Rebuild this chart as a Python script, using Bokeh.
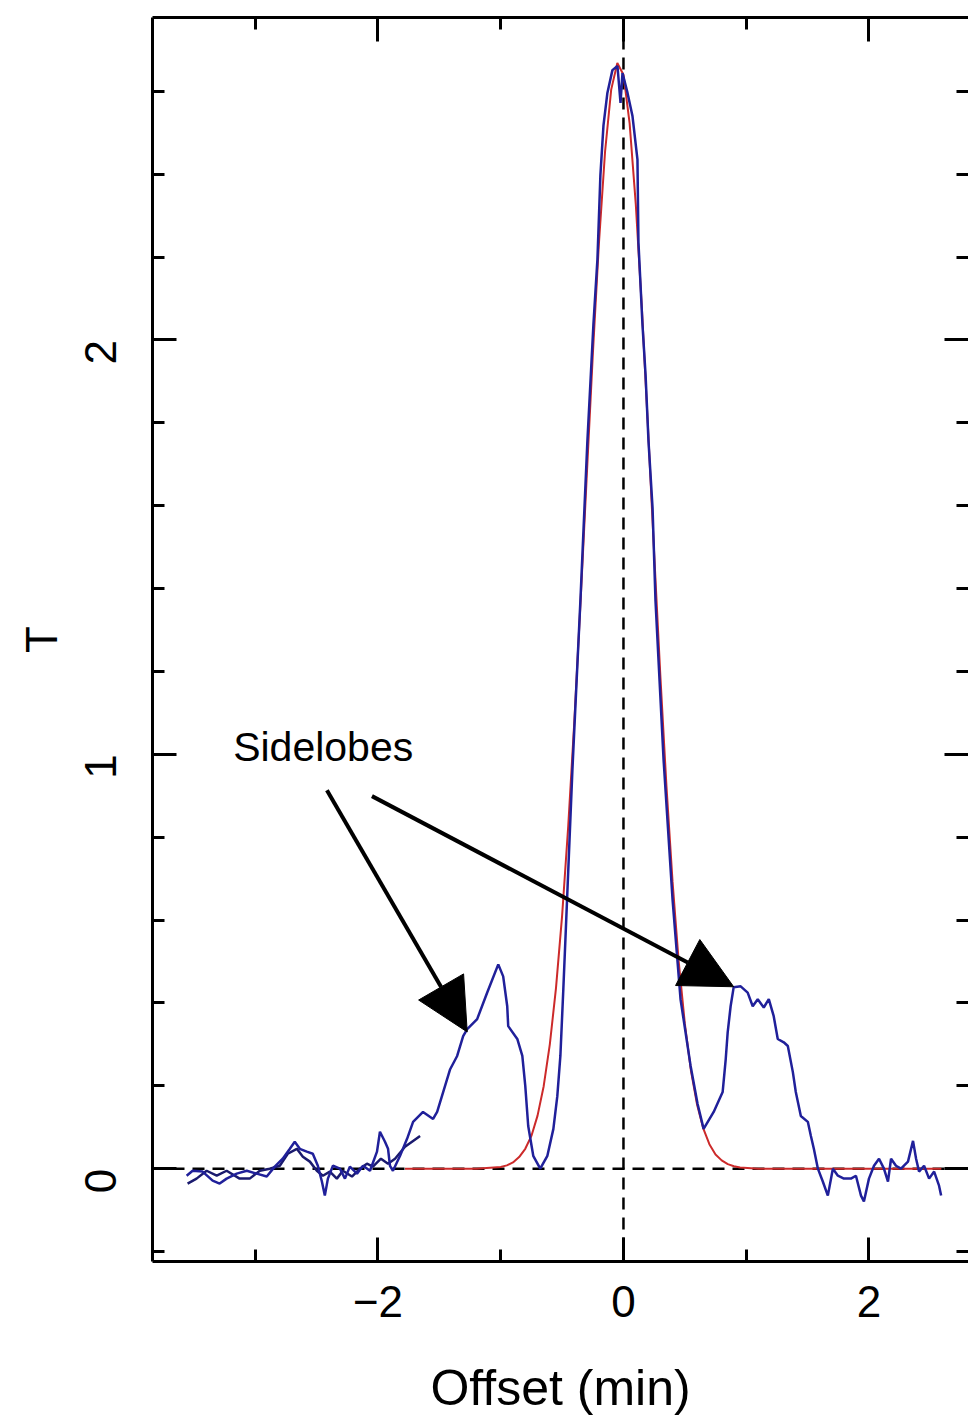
import math
from bokeh.plotting import figure
from bokeh.models import (Range1d, LinearAxis, SingleIntervalTicker, Span, Label,
                          Arrow, NormalHead, CustomJSTickFormatter)
from bokeh.embed import file_html
from bokeh.resources import INLINE

FONT = "Liberation Sans"

# ---------------- data ----------------
# observed scan (blue), full range
scan_x = [-3.559, -3.510, -3.429, -3.347, -3.290, -3.233, -3.151, -3.069, -2.988, -2.906,
          -2.841, -2.776, -2.718, -2.678, -2.637, -2.580, -2.531, -2.490, -2.457, -2.433,
          -2.408, -2.367, -2.310, -2.269, -2.229, -2.171, -2.122, -2.065, -2.008, -1.984,
          -1.943, -1.918, -1.902, -1.878, -1.820, -1.763, -1.714, -1.633, -1.551, -1.518,
          -1.469, -1.412, -1.355, -1.306, -1.273, -1.192, -1.110, -1.020, -0.980, -0.947,
          -0.939, -0.865, -0.824, -0.800, -0.776, -0.735, -0.678, -0.620, -0.571, -0.539,
          -0.514, -0.490, -0.473, -0.416, -0.351, -0.294, -0.245, -0.212, -0.188, -0.163,
          -0.131, -0.090, -0.049, -0.024, -0.008, 0.033, 0.073, 0.114, 0.122, 0.155,
          0.180, 0.204, 0.237, 0.261, 0.327, 0.400, 0.465, 0.547, 0.604, 0.653,
          0.735, 0.808, 0.833, 0.849, 0.873, 0.898, 0.955, 1.012, 1.053, 1.094,
          1.143, 1.184, 1.224, 1.257, 1.306, 1.339, 1.380, 1.404, 1.445, 1.502,
          1.527, 1.551, 1.584, 1.624, 1.665, 1.706, 1.747, 1.796, 1.853, 1.894,
          1.935, 1.959, 2.000, 2.041, 2.082, 2.122, 2.155, 2.180, 2.220, 2.261,
          2.318, 2.359, 2.384, 2.408, 2.449, 2.490, 2.531, 2.571, 2.588]
scan_t = [-0.017, -0.005, -0.007, -0.029, -0.036, -0.024, -0.012, -0.005, -0.012, -0.019,
          0.005, 0.024, 0.048, 0.065, 0.048, 0.041, 0.036, 0.007, -0.031, -0.065,
          -0.024, 0.007, 0.000, -0.024, 0.005, -0.012, 0.007, -0.005, 0.041, 0.089,
          0.065, 0.048, 0.007, -0.005, 0.031, 0.072, 0.113, 0.137, 0.120, 0.137,
          0.185, 0.240, 0.272, 0.320, 0.337, 0.361, 0.425, 0.493, 0.464, 0.392,
          0.344, 0.313, 0.272, 0.200, 0.103, 0.031, 0.000, 0.031, 0.096, 0.175,
          0.272, 0.433, 0.553, 0.962, 1.370, 1.755, 2.036, 2.195, 2.397, 2.517,
          2.596, 2.651, 2.661, 2.572, 2.644, 2.596, 2.541, 2.435, 2.236, 2.036,
          1.916, 1.755, 1.594, 1.370, 0.986, 0.649, 0.409, 0.248, 0.156, 0.096,
          0.137, 0.185, 0.264, 0.329, 0.392, 0.438, 0.440, 0.425, 0.392, 0.409,
          0.389, 0.409, 0.368, 0.313, 0.305, 0.296, 0.233, 0.185, 0.127, 0.113,
          0.079, 0.048, 0.000, -0.031, -0.065, 0.000, -0.017, -0.024, -0.024, -0.017,
          -0.065, -0.079, -0.024, 0.007, 0.024, 0.000, -0.031, 0.024, 0.007, 0.000,
          0.017, 0.067, 0.024, -0.007, 0.007, -0.024, -0.007, -0.041, -0.065]

# second (overlapping) scan on the baseline at left
scan2_x = [-3.551, -3.478, -3.396, -3.314, -3.233, -3.127, -3.045, -2.963, -2.882, -2.800,
           -2.735, -2.661, -2.612, -2.555, -2.498, -2.449, -2.392, -2.335, -2.286, -2.212,
           -2.147, -2.090, -2.041, -1.976, -1.918, -1.861, -1.780, -1.714, -1.657]
scan2_t = [-0.036, -0.024, -0.005, -0.017, -0.005, -0.024, -0.024, -0.005, 0.000, 0.007,
           0.036, 0.048, 0.029, 0.017, -0.005, -0.017, -0.007, -0.024, -0.005, -0.019,
           0.000, 0.012, 0.005, 0.024, 0.012, 0.024, 0.053, 0.067, 0.079]

# beam fit (red)
fit_x = [-1.78, -1.20, -1.00, -0.95, -0.90, -0.85, -0.80, -0.75, -0.70, -0.65,
         -0.60, -0.55, -0.50, -0.45, -0.40, -0.35, -0.30, -0.25, -0.20, -0.15,
         -0.10, -0.05, 0.00, 0.05, 0.10, 0.15, 0.20, 0.25, 0.30, 0.35,
         0.40, 0.45, 0.50, 0.55, 0.60, 0.65, 0.70, 0.75, 0.80, 0.85,
         0.90, 0.95, 1.10, 2.59]
fit_t = [0.000, 0.000, 0.004, 0.008, 0.015, 0.028, 0.048, 0.079, 0.128, 0.199,
         0.300, 0.435, 0.610, 0.827, 1.081, 1.366, 1.666, 1.963, 2.233, 2.454,
         2.604, 2.668, 2.640, 2.523, 2.329, 2.076, 1.787, 1.485, 1.192, 0.924,
         0.692, 0.500, 0.350, 0.236, 0.154, 0.097, 0.059, 0.034, 0.020, 0.011,
         0.006, 0.003, 0.000, 0.000]

# annotation: label and arrows (tail -> tip)
label_text = "Sidelobes"
label_pos = (-3.18, 1.017)
arrow_x0 = [-2.416, -2.049]
arrow_y0 = [0.913, 0.899]
arrow_x1 = [-1.273, 0.898]
arrow_y1 = [0.330, 0.439]

x_ticks_major = 2
y_ticks_major = 1

# ---------------- figure ----------------
p = figure(width=968, height=1418, output_backend="svg", toolbar_location=None, tools="",
           x_range=Range1d(-3.837, 2.811), y_range=Range1d(-0.224, 2.778),
           x_axis_location=None, y_axis_location=None,
           min_border_left=152, min_border_top=17, min_border_right=0, min_border_bottom=155)
p.outline_line_color = None
p.xgrid.visible = False
p.ygrid.visible = False
p.background_fill_color = "white"
p.border_fill_color = "white"


def style_axis(ax, show_labels, show_line=True):
    ax.axis_line_color = "black" if show_line else None
    ax.axis_line_width = 3
    ax.major_tick_in = 24
    ax.major_tick_out = 0
    ax.minor_tick_in = 12
    ax.minor_tick_out = 0
    ax.major_tick_line_width = 3
    ax.minor_tick_line_width = 3
    ax.major_tick_line_color = "black"
    ax.minor_tick_line_color = "black"
    if show_labels:
        ax.major_label_text_font = FONT
        ax.major_label_text_font_size = "44px"
        ax.major_label_text_color = "black"
        ax.axis_label_text_font = FONT
        ax.axis_label_text_font_size = "50px"
        ax.axis_label_text_font_style = "normal"
        ax.axis_label_text_color = "black"
    else:
        ax.formatter = CustomJSTickFormatter(code="return ''")
        ax.major_label_text_font_size = "0px"
        ax.major_label_standoff = 0


xb = LinearAxis(ticker=SingleIntervalTicker(interval=x_ticks_major, num_minor_ticks=2),
                axis_label="Offset (min)")
style_axis(xb, True)
xb.major_label_standoff = 24
xb.axis_label_standoff = 40
p.add_layout(xb, "below")

xt = LinearAxis(ticker=SingleIntervalTicker(interval=x_ticks_major, num_minor_ticks=2))
style_axis(xt, False)
p.add_layout(xt, "above")

yl = LinearAxis(ticker=SingleIntervalTicker(interval=y_ticks_major, num_minor_ticks=5),
                axis_label="T")
style_axis(yl, True)
yl.axis_label_text_font_size = "44px"
yl.major_label_orientation = math.pi / 2
yl.major_label_standoff = 52
yl.axis_label_standoff = 1
p.add_layout(yl, "left")

yr = LinearAxis(ticker=SingleIntervalTicker(interval=y_ticks_major, num_minor_ticks=5))
style_axis(yr, False, show_line=False)
p.add_layout(yr, "right")

# dashed zero lines
p.add_layout(Span(location=0, dimension="width", line_color="black", line_width=2.5,
                  line_dash="12 8", level="underlay"))
p.add_layout(Span(location=0, dimension="height", line_color="black", line_width=2.5,
                  line_dash="12 8", level="underlay"))

p.line(fit_x, fit_t, line_color="#cc2a2a", line_width=2)
p.line(scan2_x, scan2_t, line_color="#1a1a6e", line_width=2.5)
p.line(scan_x, scan_t, line_color="#20209a", line_width=2.5)

p.add_layout(Label(x=label_pos[0], y=label_pos[1], text=label_text, text_font=FONT,
                   text_font_size="41px", text_color="black",
                   text_baseline="middle", text_align="left"))

for xs, ys, xe, ye in zip(arrow_x0, arrow_y0, arrow_x1, arrow_y1):
    p.add_layout(Arrow(end=NormalHead(size=52, fill_color="black", line_color="black",
                                      line_width=1),
                       x_start=xs, y_start=ys, x_end=xe, y_end=ye,
                       line_color="black", line_width=4))

open("out.html", "w").write(file_html(p, INLINE))
